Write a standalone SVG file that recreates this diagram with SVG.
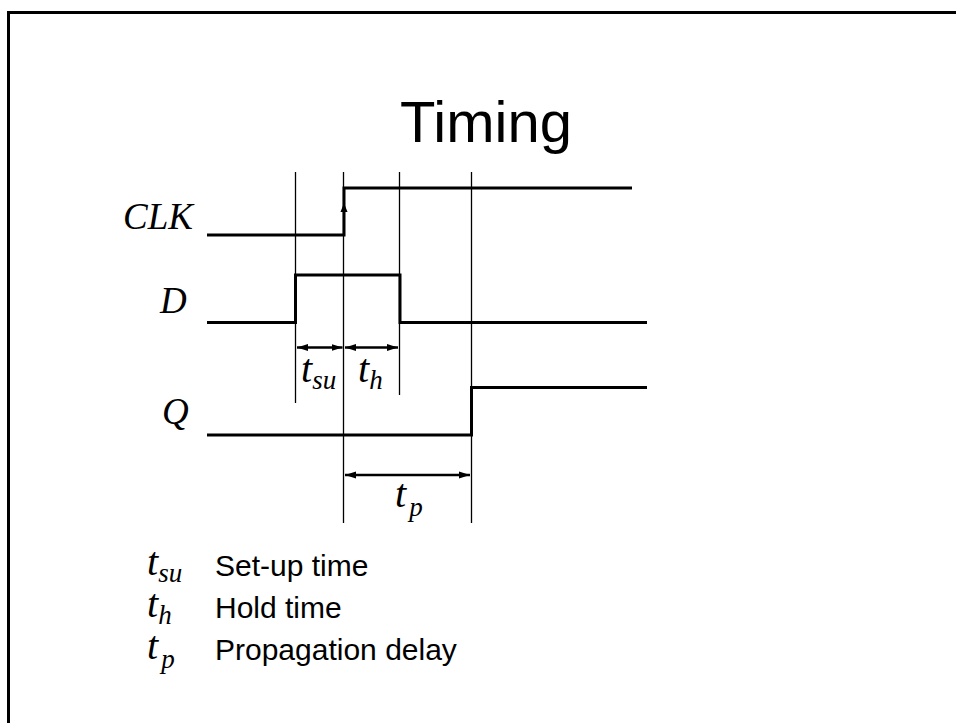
<svg xmlns="http://www.w3.org/2000/svg" width="956" height="723" viewBox="0 0 956 723">
<defs>
<marker id="ah" markerWidth="12" markerHeight="8" refX="11" refY="4" orient="auto-start-reverse" markerUnits="userSpaceOnUse">
<path d="M0,0.6 L11,4 L0,7.4 Z" fill="#000"/>
</marker>
</defs>
<style>
.sig{fill:none;stroke:#000;stroke-width:3;stroke-linejoin:miter}
.guide{stroke:#000;stroke-width:1.3}
.dim{stroke:#000;stroke-width:2.5;marker-start:url(#ah);marker-end:url(#ah)}
.lab{font-family:"Liberation Serif","Times New Roman",serif;font-style:italic;fill:#000}
.sans{font-family:"Liberation Sans",Arial,sans-serif;fill:#000}
</style>
<rect width="956" height="723" fill="#fff"/>
<path d="M8.5,723 L8.5,12.5 L956,12.5" fill="none" stroke="#000" stroke-width="3"/>
<text class="sans" x="486" y="142" font-size="58" text-anchor="middle">Timing</text>
<g id="guides">
<line class="guide" x1="295.5" y1="172" x2="295.5" y2="403"/>
<line class="guide" x1="343.5" y1="172" x2="343.5" y2="523"/>
<line class="guide" x1="399.5" y1="172" x2="399.5" y2="395"/>
<line class="guide" x1="471.5" y1="172" x2="471.5" y2="523"/>
</g>
<g id="CLK">
<text class="lab" x="123" y="229" font-size="37">CLK</text>
<path class="sig" d="M207,235 L344,235 L344,188 L632,188"/>
<path d="M344,203 L347.5,212 L340.5,212 Z" fill="#000"/>
</g>
<g id="D">
<text class="lab" x="160" y="313" font-size="37">D</text>
<path class="sig" d="M207,322.5 L295.5,322.5 L295.5,275 L400,275 L400,322.5 L647,322.5"/>
</g>
<g id="Q">
<text class="lab" x="162" y="424" font-size="37">Q</text>
<path class="sig" d="M207,435 L471.5,435 L471.5,387.5 L647,387.5"/>
</g>
<g id="connectors">
<line class="dim" x1="297" y1="347.5" x2="342.5" y2="347.5"/>
<line class="dim" x1="345" y1="347.5" x2="398" y2="347.5"/>
<line class="dim" x1="345" y1="475" x2="470" y2="475"/>
</g>
<g id="tsu"><text class="lab" x="301" y="382" font-size="40">t<tspan font-size="27" dy="7">su</tspan></text></g>
<g id="th"><text class="lab" x="358" y="382" font-size="40">t<tspan font-size="27" dy="7">h</tspan></text></g>
<g id="tp"><text class="lab" x="395" y="507" font-size="40">t<tspan font-size="27" dx="3" dy="9">p</tspan></text></g>
<g id="legend">
<text class="lab" x="147" y="575" font-size="40">t<tspan font-size="27" dy="7">su</tspan></text>
<text class="sans" x="215" y="576" font-size="30">Set-up time</text>
<text class="lab" x="147" y="617" font-size="40">t<tspan font-size="27" dy="7">h</tspan></text>
<text class="sans" x="215" y="618" font-size="30">Hold time</text>
<text class="lab" x="147" y="659" font-size="40">t<tspan font-size="27" dx="3" dy="9">p</tspan></text>
<text class="sans" x="215" y="660" font-size="30">Propagation delay</text>
</g>
</svg>
